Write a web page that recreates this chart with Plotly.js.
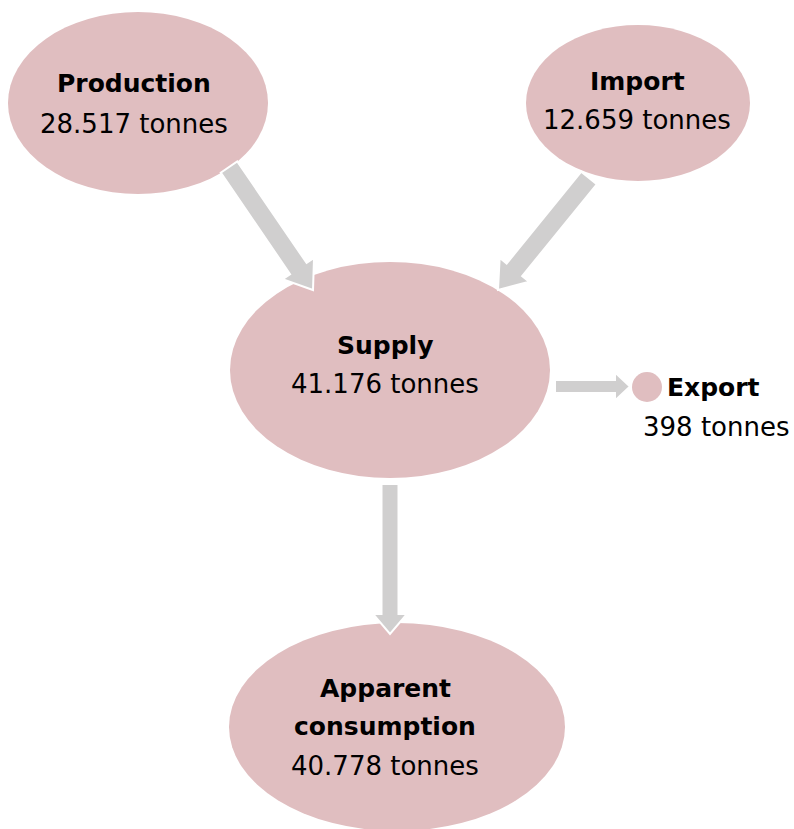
<!DOCTYPE html>
<html>
<head>
<meta charset="utf-8">
<script src="https://cdn.plot.ly/plotly-3.0.1.min.js"></script>
<style>html,body{margin:0;padding:0;background:#fff;}#chart{width:794px;height:829px;}</style>
</head>
<body>
<div id="chart"></div>
<script>
// ---- data ----
const nodeNames = ['Production', 'Import', 'Supply', 'Export', 'Apparent consumption'];
const nodeValues = [28517, 12659, 41176, 398, 40778];
const unit = 'tonnes';
const flowFrom = ['Production', 'Import', 'Supply', 'Supply'];
const flowTo = ['Supply', 'Supply', 'Export', 'Apparent consumption'];

// ---- layout config (pixel space) ----
const nodeGeom = {
  'Production': {cx: 138, cy: 103, rx: 130, ry: 91, labelY: [83, 124], labelX: 134},
  'Import': {cx: 638, cy: 103, rx: 112, ry: 78, labelY: [81, 120], labelX: 637},
  'Supply': {cx: 390, cy: 370, rx: 160, ry: 108, labelY: [345, 384], labelX: 385},
  'Export': {cx: 647, cy: 387, rx: 15, ry: 15, labelY: [387, 427], labelX: 716, boldX: 713},
  'Apparent consumption': {cx: 397, cy: 727, rx: 168, ry: 104, labelY: [688, 726, 766], labelX: 385}
};
const arrowGeom = [
  {s: [229, 167], e: [313, 290], w: 10, h: 19, L: 26},
  {s: [589, 178], e: [498, 290], w: 10, h: 19, L: 26},
  {s: [555, 386.5], e: [630, 386.5], w: 6.5, h: 14, L: 15},
  {s: [390, 484], e: [390, 634], w: 8.5, h: 17, L: 20}
];
const fillColor = '#e0bec0';
const arrowColor = '#d0cfcf';
const font = 'DejaVu Sans, Noto Sans, sans-serif';

function fmt(v) {
  return String(v).replace(/\B(?=(\d{3})+(?!\d))/g, '.');
}

const shapes = [];
const annotations = [];

nodeNames.forEach((name, i) => {
  const g = nodeGeom[name];
  shapes.push({type: 'circle', xref: 'x', yref: 'y', x0: g.cx - g.rx, x1: g.cx + g.rx,
    y0: g.cy - g.ry, y1: g.cy + g.ry, fillcolor: fillColor, line: {width: 0}, layer: 'below'});
  const lines = name === 'Apparent consumption' ? ['Apparent', 'consumption'] : [name];
  const valueLine = fmt(nodeValues[i]) + ' ' + unit;
  lines.forEach((t, j) => {
    annotations.push({x: (g.boldX || g.labelX), y: g.labelY[j], xref: 'x', yref: 'y', text: '<b>' + t + '</b>',
      showarrow: false, font: {family: font, size: 25, color: '#000'}, xanchor: 'center', yanchor: 'middle'});
  });
  annotations.push({x: g.labelX, y: g.labelY[lines.length], xref: 'x', yref: 'y', text: valueLine,
    showarrow: false, font: {family: font, size: 26, color: '#000'}, xanchor: 'center', yanchor: 'middle'});
});

flowFrom.forEach((f, i) => {
  const a = arrowGeom[i];
  const dx = a.e[0] - a.s[0], dy = a.e[1] - a.s[1];
  const len = Math.hypot(dx, dy);
  const ux = dx / len, uy = dy / len;
  const nx = -uy, ny = ux;
  const bx = a.e[0] - ux * a.L, by = a.e[1] - uy * a.L;
  const pts = [
    [a.s[0] + nx * a.w, a.s[1] + ny * a.w],
    [bx + nx * a.w, by + ny * a.w],
    [bx + nx * a.h, by + ny * a.h],
    [a.e[0], a.e[1]],
    [bx - nx * a.h, by - ny * a.h],
    [bx - nx * a.w, by - ny * a.w],
    [a.s[0] - nx * a.w, a.s[1] - ny * a.w]
  ];
  const path = 'M' + pts.map(p => p[0].toFixed(2) + ',' + p[1].toFixed(2)).join(' L') + ' Z';
  shapes.push({type: 'path', xref: 'x', yref: 'y', path: path, fillcolor: arrowColor,
    line: {color: '#ffffff', width: 2}, layer: 'above'});
});

const layout = {
  width: 794, height: 829,
  margin: {l: 0, r: 0, t: 0, b: 0},
  paper_bgcolor: '#ffffff', plot_bgcolor: '#ffffff',
  xaxis: {range: [0, 794], visible: false, fixedrange: true},
  yaxis: {range: [829, 0], visible: false, fixedrange: true},
  shapes: shapes,
  annotations: annotations,
  showlegend: false
};

Plotly.newPlot('chart', [{x: [], y: [], type: 'scatter', mode: 'markers', hoverinfo: 'skip'}], layout, {displayModeBar: false, staticPlot: true});
</script>
</body>
</html>
